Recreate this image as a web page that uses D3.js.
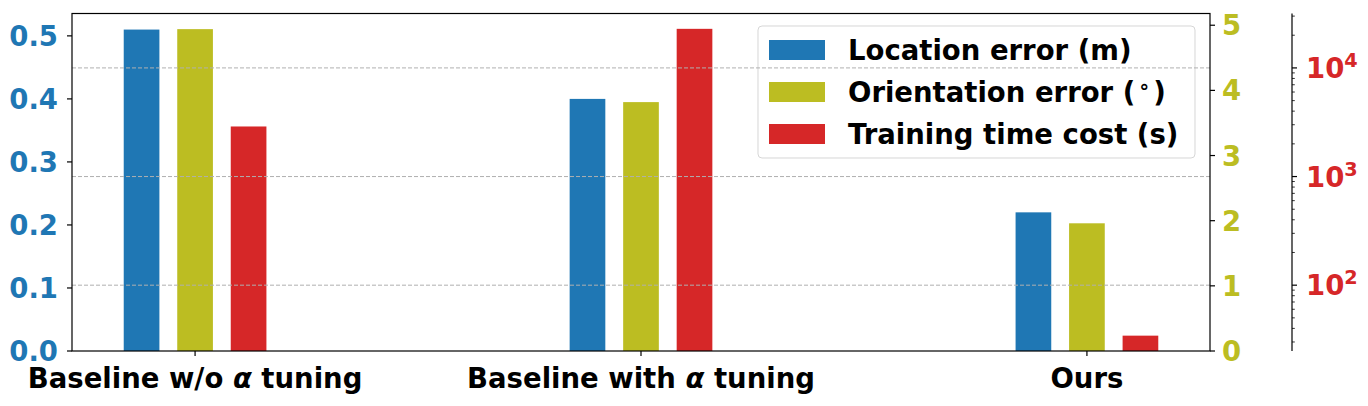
<!DOCTYPE html>
<meta charset="utf-8">
<style>
  body { margin: 0; background: #fff; }
  text { font-family: "DejaVu Sans", sans-serif; font-weight: bold; }
</style>
<script src="https://d3js.org/d3.v7.min.js"></script>
<body>
<script>

// data
var groups = ["Baseline w/o \u03b1 tuning", "Baseline with \u03b1 tuning", "Ours"]
var locationErr = [0.51, 0.40, 0.22]          // m, left axis
var orientationErr = [4.94, 3.82, 1.96]       // degrees, inner right axis
var trainTime = [2890, 22900, 34.3]           // seconds, outer right log axis
var seriesNames = ["Location error (m)", "Orientation error (\u2218)", "Training time cost (s)"]
var colors = ["#1f77b4", "#bcbd22", "#d62728"]
var leftTicks = [0.0, 0.1, 0.2, 0.3, 0.4, 0.5]
var midTicks = [0, 1, 2, 3, 4, 5]
var logMajors = [100, 1000, 10000]

var W = 1368, H = 406
// plot box (window.top is read-only, so use other names)
var pLeft = 72, pRight = 1210, pTop = 13.5, pBottom = 351
var fs = 27.5

var svg = d3.select("body").append("svg")
    .attr("width", W).attr("height", H)

var x = d3.scaleLinear().domain([-0.276, 2.276]).range([pLeft, pRight])
var yL = d3.scaleLinear().domain([0, 0.5355]).range([pBottom, pTop])
var yM = d3.scaleLinear().domain([0, 5.18]).range([pBottom, pTop])
var yR = d3.scaleLog().domain([Math.pow(10, 1.394), Math.pow(10, 4.501)]).range([pBottom, pTop])

var barW = 0.08, off = 0.12

// bars
function drawBars(vals, k, scale) {
  svg.append("g").selectAll("rect")
      .data(vals)
      .enter().append("rect")
      .attr("x", function(d, i) { return x(i + (k - 1) * off - barW / 2) })
      .attr("width", function() { return x(barW) - x(0) })
      .attr("y", function(d) { return scale(d) })
      .attr("height", function(d) { return pBottom - scale(d) })
      .attr("fill", colors[k])
}
drawBars(locationErr, 0, yL)
drawBars(orientationErr, 1, yM)
drawBars(trainTime, 2, yR)

// legend
var lg = svg.append("g")
lg.append("rect")
    .attr("x", 758).attr("y", 26).attr("width", 437).attr("height", 132)
    .attr("rx", 4).attr("fill", "#fff").attr("fill-opacity", 0.8)
    .attr("stroke", "#cccccc").attr("stroke-opacity", 0.8)
seriesNames.forEach(function(name, i) {
  var cy = 50 + i * 42
  lg.append("rect").attr("x", 769).attr("y", cy - 10).attr("width", 56).attr("height", 20)
      .attr("fill", colors[i])
  var t = lg.append("text").attr("x", 848).attr("y", cy + 10)
      .attr("font-size", fs).attr("fill", "#000")
  if (i == 1) {
    t.append("tspan").text("Orientation error (")
    t.append("tspan").attr("font-size", fs * 0.7).attr("dy", -9).attr("dx", 3).text("\u2218")
    t.append("tspan").attr("dy", 9).attr("dx", 3).text(")")
  } else {
    t.text(name)
  }
})

// grid lines from the log axis, drawn over the bars
svg.append("g").selectAll("line")
    .data(logMajors)
    .enter().append("line")
    .attr("x1", pLeft).attr("x2", pRight)
    .attr("y1", function(d) { return yR(d) }).attr("y2", function(d) { return yR(d) })
    .attr("stroke", "#b0b0b0").attr("stroke-width", 1)
    .attr("stroke-dasharray", "4,2")

// frame
svg.append("rect")
    .attr("x", pLeft).attr("y", pTop).attr("width", pRight - pLeft).attr("height", pBottom - pTop)
    .attr("fill", "none").attr("stroke", "#000").attr("stroke-width", 1.2)

// left axis
var gL = svg.append("g")
leftTicks.forEach(function(v) {
  gL.append("line").attr("x1", pLeft - 5).attr("x2", pLeft)
      .attr("y1", yL(v)).attr("y2", yL(v)).attr("stroke", "#000").attr("stroke-width", 1.2)
  gL.append("text").attr("x", 58).attr("y", yL(v) + 10).attr("text-anchor", "end")
      .attr("font-size", fs).attr("fill", colors[0]).text(d3.format(".1f")(v))
})

// inner right axis
var gM = svg.append("g")
midTicks.forEach(function(v) {
  gM.append("line").attr("x1", pRight).attr("x2", pRight + 5)
      .attr("y1", yM(v)).attr("y2", yM(v)).attr("stroke", "#000").attr("stroke-width", 1.2)
  gM.append("text").attr("x", 1222).attr("y", yM(v) + 10)
      .attr("font-size", fs).attr("fill", colors[1]).text(v)
})

// outer right log axis
var rx = 1292
var gR = svg.append("g")
gR.append("line").attr("x1", rx).attr("x2", rx).attr("y1", pTop).attr("y2", pBottom)
    .attr("stroke", "#000").attr("stroke-width", 1.2)
var dom = yR.domain()
yR.ticks().forEach(function(v) {
  if (v < dom[0] || v > dom[1]) return
  var major = logMajors.indexOf(v) >= 0
  gR.append("line").attr("x1", rx).attr("x2", rx + (major ? 5 : 2.8))
      .attr("y1", yR(v)).attr("y2", yR(v)).attr("stroke", "#000")
      .attr("stroke-width", major ? 1.2 : 0.8)
})
logMajors.forEach(function(v) {
  var t = gR.append("text").attr("x", 1306).attr("y", yR(v) + 10)
      .attr("font-size", fs).attr("fill", colors[2])
  t.append("tspan").text("10")
  t.append("tspan").attr("font-size", fs * 0.7).attr("dy", -11)
      .text(Math.round(Math.log10(v)))
})

// x axis ticks and labels
groups.forEach(function(g, i) {
  svg.append("line").attr("x1", x(i)).attr("x2", x(i)).attr("y1", pBottom).attr("y2", pBottom + 5)
      .attr("stroke", "#000").attr("stroke-width", 1.2)
  var t = svg.append("text").attr("x", x(i)).attr("y", 388).attr("text-anchor", "middle")
      .attr("font-size", fs).attr("fill", "#000")
  var parts = g.split("\u03b1")
  if (parts.length > 1) {
    t.append("tspan").text(parts[0])
    t.append("tspan").attr("font-style", "italic").text("\u03b1")
    t.append("tspan").text(parts[1])
  } else {
    t.text(g)
  }
})

</script>
